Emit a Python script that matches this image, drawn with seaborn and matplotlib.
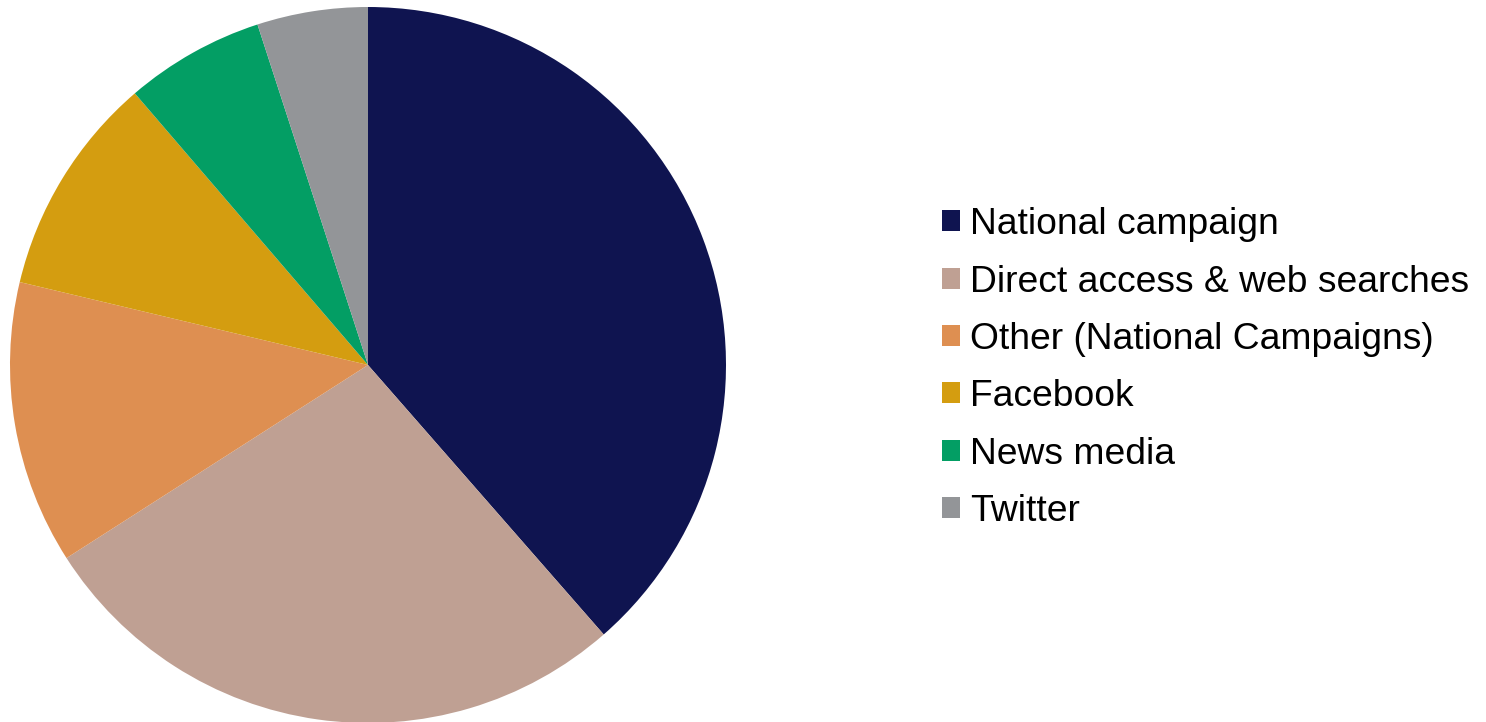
import matplotlib
matplotlib.use("Agg")
import matplotlib.pyplot as plt
from matplotlib.patches import Patch
import seaborn as sns

# Traffic sources (share of visits, %)
sources = ["National campaign", "Direct access & web searches", "Other (National Campaigns)",
           "Facebook", "News media", "Twitter"]
shares = [38.6, 27.4, 12.8, 10.0, 6.3, 5.0]
colors = ["#0F1450", "#BFA093", "#DE8F51", "#D49D10", "#039E64", "#939598"]

sns.set_theme(style="white")
plt.rcParams['font.family'] = ['Liberation Sans', 'DejaVu Sans']

fig = plt.figure(figsize=(14.86, 7.22), dpi=100)

# pie: centre ~ (368, 365) px, radius ~ 358 px
r_px = 358
ax = fig.add_axes([(368 - r_px) / 1486, (722 - 365 - r_px) / 722, 2 * r_px / 1486, 2 * r_px / 722])
ax.pie(shares, colors=colors, startangle=90, counterclock=False, radius=1,
       wedgeprops=dict(linewidth=0))
ax.set_xlim(-1, 1)
ax.set_ylim(-1, 1)
ax.set_aspect('equal')
ax.axis('off')

handles = [Patch(facecolor=c, edgecolor='none') for c in colors]
fig.legend(handles, sources, loc='center left', bbox_to_anchor=(942 / 1486, 1 - 368 / 722),
           frameon=False, fontsize=26.8, labelcolor='black', borderpad=0, borderaxespad=0,
           handlelength=0.49, handleheight=0.49, handletextpad=0.26, labelspacing=0.60)

plt.savefig('out.png', dpi=100)
plt.close()
